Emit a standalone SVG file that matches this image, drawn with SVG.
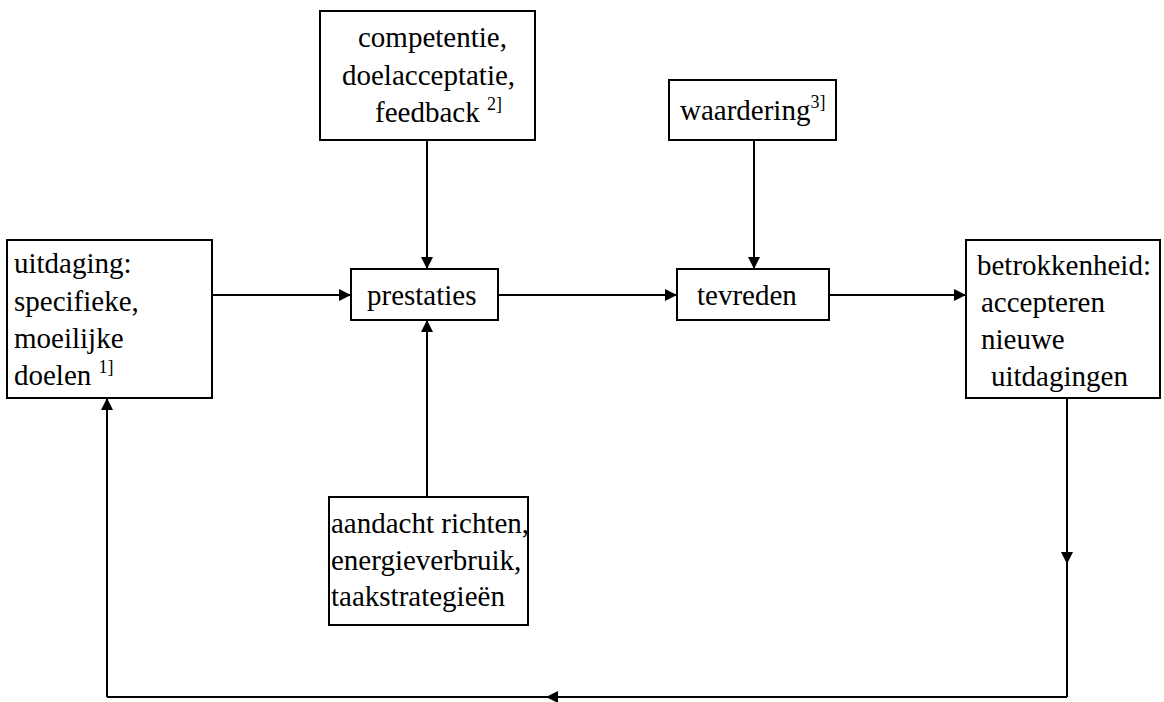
<svg xmlns="http://www.w3.org/2000/svg" width="1164" height="702" viewBox="0 0 1164 702">
  <style>
    .box { fill: #fff; stroke: #000; stroke-width: 2; }
    .lbl { font-family: 'Times New Roman', 'Liberation Serif', Times, 'Noto Serif', 'DejaVu Serif', serif; font-size: 29px; fill: #000; }
    .sup { font-size: 18px; }
    .wire { fill: none; stroke: #000; stroke-width: 2; }
  </style>
  <defs>
    <marker id="arrow" viewBox="0 0 10 10" refX="10" refY="5" markerWidth="6" markerHeight="6" markerUnits="strokeWidth" orient="auto">
      <path d="M0,0 L10,5 L0,10 z" fill="#000"/>
    </marker>
  </defs>
  <rect width="1164" height="702" fill="#fff"/>

  <!-- connectors -->
  <g id="connectors">
    <line class="wire" x1="212" y1="295" x2="351" y2="295" marker-end="url(#arrow)"/>
    <line class="wire" x1="498" y1="295" x2="677" y2="295" marker-end="url(#arrow)"/>
    <line class="wire" x1="829" y1="295" x2="966" y2="295" marker-end="url(#arrow)"/>
    <line class="wire" x1="427" y1="140" x2="427" y2="269" marker-end="url(#arrow)"/>
    <line class="wire" x1="754" y1="140" x2="754" y2="269" marker-end="url(#arrow)"/>
    <line class="wire" x1="427" y1="497" x2="427" y2="320" marker-end="url(#arrow)"/>
    <!-- feedback loop back to the goals -->
    <line class="wire" x1="1067" y1="398" x2="1067" y2="564" marker-end="url(#arrow)"/>
    <line class="wire" x1="1067" y1="562" x2="1067" y2="697"/>
    <line class="wire" x1="1067" y1="697" x2="546" y2="697" marker-end="url(#arrow)"/>
    <line class="wire" x1="548" y1="697" x2="107" y2="697"/>
    <line class="wire" x1="107" y1="697" x2="107" y2="398" marker-end="url(#arrow)"/>
  </g>

  <g id="uitdaging">
    <rect class="box" x="7" y="240" width="205" height="158"/>
    <text class="lbl" x="14" y="273">uitdaging:</text>
    <text class="lbl" x="14" y="311">specifieke,</text>
    <text class="lbl" x="14" y="348">moeilijke</text>
    <text class="lbl" x="14" y="385">doelen <tspan class="sup" dy="-12">1]</tspan></text>
  </g>

  <g id="competentie">
    <rect class="box" x="320" y="11" width="215" height="129"/>
    <text class="lbl" x="358" y="47">competentie,</text>
    <text class="lbl" x="342" y="85">doelacceptatie,</text>
    <text class="lbl" x="375" y="122">feedback <tspan class="sup" dy="-12">2]</tspan></text>
  </g>

  <g id="waardering">
    <rect class="box" x="669" y="80" width="167" height="60"/>
    <text class="lbl" x="680" y="120">waardering<tspan class="sup" dy="-12">3]</tspan></text>
  </g>

  <g id="prestaties">
    <rect class="box" x="351" y="269" width="147" height="51"/>
    <text class="lbl" x="367" y="305">prestaties</text>
  </g>

  <g id="tevreden">
    <rect class="box" x="677" y="269" width="152" height="51"/>
    <text class="lbl" x="697" y="305">tevreden</text>
  </g>

  <g id="betrokkenheid">
    <rect class="box" x="966" y="240" width="194" height="158"/>
    <text class="lbl" x="977" y="275">betrokkenheid:</text>
    <text class="lbl" x="981" y="312">accepteren</text>
    <text class="lbl" x="981" y="349">nieuwe</text>
    <text class="lbl" x="991" y="386">uitdagingen</text>
  </g>

  <g id="aandacht">
    <rect class="box" x="329" y="497" width="199" height="128"/>
    <text class="lbl" x="331" y="533">aandacht richten,</text>
    <text class="lbl" x="331" y="570">energieverbruik,</text>
    <text class="lbl" x="331" y="606">taakstrategieën</text>
  </g>
</svg>
